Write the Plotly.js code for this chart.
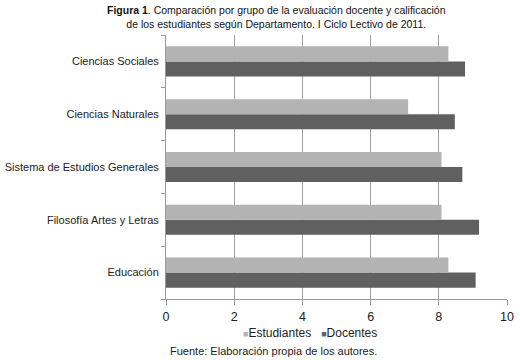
<!DOCTYPE html>
<html>
<head>
<meta charset="utf-8">
<script src="https://cdn.plot.ly/plotly-3.0.1.min.js"></script>
<style>html,body{margin:0;padding:0;background:#fff;}#chart{width:520px;height:360px;}</style>
</head>
<body>
<div id="chart"></div>
<script>
var categories = ["Educación", "Filosofía Artes y Letras", "Sistema de Estudios Generales", "Ciencias Naturales", "Ciencias Sociales"];
var estudiantes = [8.28, 8.08, 8.08, 7.10, 8.28];
var docentes = [9.08, 9.18, 8.69, 8.47, 8.77];
var seriesNames = ["Estudiantes", "Docentes"];
var seriesColors = ["#b3b3b3", "#606060"];
var xTicks = [0, 2, 4, 6, 8, 10];

var font = "Liberation Sans, Arial, sans-serif";
var traces = [
  {type: "bar", orientation: "h", name: seriesNames[1], y: categories, x: docentes,
   marker: {color: seriesColors[1]}, hoverinfo: "x", showlegend: false},
  {type: "bar", orientation: "h", name: seriesNames[0], y: categories, x: estudiantes,
   marker: {color: seriesColors[0]}, hoverinfo: "x", showlegend: false}
];
var legendText = seriesNames.map(function (n, i) {
  return '<span style="color:' + seriesColors[i] + ';font-size:9px">■</span>' + n;
}).join("   ");
var layout = {
  width: 520, height: 360,
  margin: {l: 166, r: 13, t: 35, b: 61},
  paper_bgcolor: "#fff", plot_bgcolor: "#fff",
  barmode: "group", bargap: 0.43, bargroupgap: 0,
  font: {family: font, size: 11, color: "#222"},
  xaxis: {range: [0, 10], tickvals: xTicks, ticktext: xTicks.map(String), showgrid: true, gridcolor: "#a0a0a0", gridwidth: 1,
          zeroline: false, showline: true, linecolor: "#9a9a9a", ticks: "outside", ticklen: 5, tickcolor: "#9a9a9a",
          ticklabelstandoff: 1, tickfont: {size: 12.5, color: "#222"}, fixedrange: true},
  yaxis: {showgrid: false, showline: true, linecolor: "#9a9a9a", ticks: "outside", ticklen: 4, tickcolor: "#9a9a9a",
          tickson: "boundaries", ticklabelstandoff: 4, tickfont: {size: 11, color: "#222"}, fixedrange: true},
  showlegend: false,
  annotations: [
    {text: "<b>Figura 1</b>. Comparación por grupo de la evaluación docente y calificación<br>de los estudiantes según Departamento. I Ciclo Lectivo de 2011.",
     xref: "paper", yref: "paper", x: 0.325, xanchor: "center", y: 1.125, yanchor: "top", showarrow: false,
     font: {family: font, size: 10.5, color: "#111"}},
    {text: legendText, xref: "paper", yref: "paper", x: 0.422, xanchor: "center", y: -0.095, yanchor: "top",
     showarrow: false, font: {family: font, size: 12, color: "#222"}},
    {text: "Fuente: Elaboración propia de los autores.", xref: "paper", yref: "paper",
     x: 0.005, xanchor: "left", y: -0.165, yanchor: "top", showarrow: false,
     font: {family: font, size: 11, color: "#222"}}
  ]
};
Plotly.newPlot("chart", traces, layout, {displayModeBar: false, staticPlot: true});
</script>
</body>
</html>
